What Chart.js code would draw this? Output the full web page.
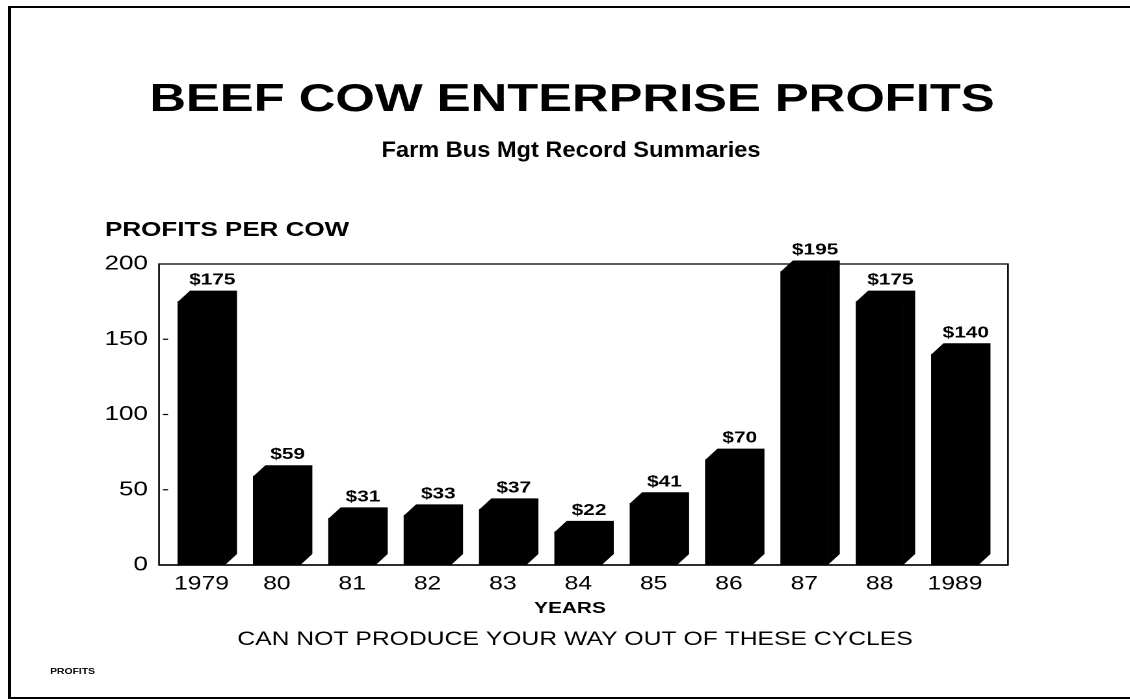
<!DOCTYPE html>
<html>
<head>
<meta charset="utf-8">
<title>Beef Cow Enterprise Profits</title>
<script src="https://cdn.jsdelivr.net/npm/chart.js@4/dist/chart.umd.min.js"></script>
<style>
  html, body { margin: 0; padding: 0; background: #fff; overflow: hidden; }
  #wrap { position: relative; width: 1130px; height: 699px; }
  #frame {
    position: absolute; left: 8px; top: 6px; width: 1140px; height: 689px;
    border-left: 3px solid #000; border-top: 2px solid #000; border-bottom: 2px solid #000;
    pointer-events: none;
  }
  #c { position: absolute; left: 0; top: 0; }
</style>
</head>
<body>
<div id="wrap">
  <canvas id="c" width="869" height="699" style="width:1130px;height:699px"></canvas>
  <div id="frame"></div>
</div>
<script>
// Data
const yearLabels = ['1979', '80', '81', '82', '83', '84', '85', '86', '87', '88', '1989'];
const profitsPerCow = [175, 59, 31, 33, 37, 22, 41, 70, 195, 175, 140];
const yTicks = [0, 50, 100, 150, 200];

// The slide is drawn on a narrower canvas and stretched wide by CSS,
// giving the extended lettering of the original artwork.
const CANVAS_W = 869, PAGE_W = 1130;
const STRETCH = PAGE_W / CANVAS_W;
const rx = v => v / STRETCH;          // page x -> canvas x

const PLOT = { left: rx(159), right: rx(1008), top: 264, bottom: 565 };
const DEPTH_X = rx(12), DEPTH_Y = 11; // extrusion of the block bars
const FONT = '"Liberation Sans", Arial, Helvetica, sans-serif';

// centred text squeezed horizontally to a given page width
function fitText(ctx, text, cx, y, pageWidth) {
  const w = ctx.measureText(text).width;
  const k = rx(pageWidth) / w;
  ctx.save();
  ctx.translate(cx, y);
  ctx.scale(k, 1);
  ctx.textAlign = 'center';
  ctx.fillText(text, 0, 0);
  ctx.restore();
}

const blockBars = {
  id: 'blockBars',
  beforeDatasetsDraw(chart) {
    const { ctx, chartArea: a, scales: { y } } = chart;
    ctx.save();
    ctx.strokeStyle = '#000';
    ctx.lineWidth = 1.3;
    ctx.strokeRect(a.left, a.top, a.right - a.left, a.bottom - a.top);
    ctx.lineWidth = 1.6;
    ctx.beginPath();
    ctx.moveTo(a.left, a.bottom); ctx.lineTo(a.right, a.bottom);
    ctx.stroke();
    // short inner ticks on the value axis
    ctx.lineWidth = 1.2;
    yTicks.slice(1, -1).forEach(v => {
      const py = y.getPixelForValue(v);
      ctx.beginPath();
      ctx.moveTo(a.left + 3, py); ctx.lineTo(a.left + 7, py);
      ctx.stroke();
    });
    ctx.restore();
  },
  afterDatasetsDraw(chart) {
    const { ctx } = chart;
    const meta = chart.getDatasetMeta(0);
    ctx.save();
    ctx.fillStyle = '#000';
    meta.data.forEach((bar, i) => {
      const { x, y, base, width } = bar.getProps(['x', 'y', 'base', 'width'], true);
      const l = x - width / 2, r = x + width / 2;
      // side and top faces of the block
      ctx.beginPath();
      ctx.moveTo(l, y);
      ctx.lineTo(l + DEPTH_X, y - DEPTH_Y);
      ctx.lineTo(r + DEPTH_X, y - DEPTH_Y);
      ctx.lineTo(r + DEPTH_X, base - DEPTH_Y);
      ctx.lineTo(r, base);
      ctx.lineTo(r, y);
      ctx.closePath();
      ctx.fill();
      // value label
      ctx.font = 'bold 16px ' + FONT;
      ctx.textAlign = 'center';
      ctx.textBaseline = 'alphabetic';
      ctx.fillText('$' + profitsPerCow[i], x + DEPTH_X * 0.9, y - DEPTH_Y - 6);
    });
    ctx.restore();
  },
  afterDraw(chart) {
    const { ctx } = chart;
    ctx.save();
    ctx.fillStyle = '#000';
    ctx.textBaseline = 'alphabetic';
    ctx.textAlign = 'center';
    ctx.font = 'bold 39px ' + FONT;
    ctx.fillText('BEEF COW ENTERPRISE PROFITS', rx(572), 111);
    ctx.font = 'bold 22px ' + FONT;
    fitText(ctx, 'Farm Bus Mgt Record Summaries', rx(571), 157, 379);
    ctx.font = 'bold 16px ' + FONT;
    ctx.fillText('YEARS', rx(570), 613);
    ctx.font = '19px ' + FONT;
    ctx.fillText('CAN NOT PRODUCE YOUR WAY OUT OF THESE CYCLES', rx(575), 645);
    ctx.textAlign = 'left';
    ctx.font = 'bold 20px ' + FONT;
    ctx.fillText('PROFITS PER COW', rx(105), 236);
    ctx.font = 'bold 8px ' + FONT;
    ctx.fillText('PROFITS', rx(50), 674);
    ctx.restore();
  }
};

const xMin = -(201.5 - 159) / 75.35;
const xMax = 10 + (1008 - 955) / 75.35;

const canvas = document.getElementById('c');
new Chart(canvas, {
  type: 'bar',
  data: {
    datasets: [{
      data: profitsPerCow.map((v, i) => ({ x: i, y: v })),
      backgroundColor: '#000',
      borderWidth: 0,
      barThickness: rx(47)
    }]
  },
  options: {
    responsive: false,
    maintainAspectRatio: false,
    devicePixelRatio: 2,
    animation: false,
    events: [],
    layout: {
      padding: { left: 0, top: PLOT.top, right: CANVAS_W - PLOT.right, bottom: 699 - PLOT.bottom - 40 }
    },
    plugins: { legend: { display: false }, title: { display: false }, tooltip: { enabled: false } },
    scales: {
      x: {
        type: 'linear',
        offset: false,
        min: xMin,
        max: xMax,
        grid: { display: false },
        border: { display: false },
        afterBuildTicks: s => { s.ticks = yearLabels.map((_, i) => ({ value: i })); },
        afterFit: s => { s.height = 40; },
        ticks: {
          autoSkip: false,
          maxRotation: 0,
          padding: 0,
          color: '#000',
          font: { family: FONT, size: 19 },
          callback: v => yearLabels[v]
        }
      },
      y: {
        min: 0,
        max: 200,
        grid: { display: false },
        border: { display: false },
        afterBuildTicks: s => { s.ticks = yTicks.map(v => ({ value: v })); },
        afterFit: s => { s.width = PLOT.left; },
        ticks: {
          padding: 0.5,
          color: '#000',
          font: { family: FONT, size: 20 }
        }
      }
    }
  },
  plugins: [blockBars]
});
// keep the wide display size on the page
canvas.style.width = PAGE_W + 'px';
canvas.style.height = '699px';
</script>
</body>
</html>
